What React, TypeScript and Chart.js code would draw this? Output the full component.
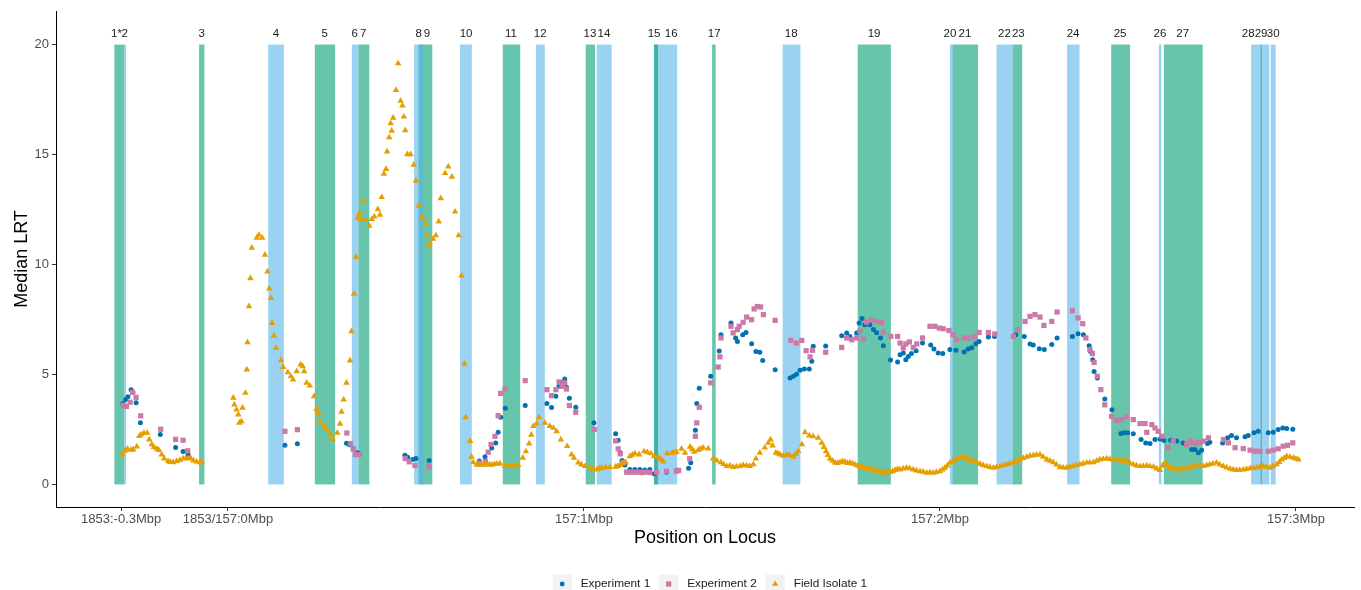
import React, { useEffect, useRef } from 'react';
import { Chart, registerables } from 'chart.js';

Chart.register(...registerables);

const FONT = "'Liberation Sans', Arial, Helvetica, sans-serif";

// x positions in kb relative to 157.0 Mbp
const xTickValues = [-30, 0, 100, 200, 300];
const xTickLabels = ['1853:-0.3Mbp', '1853/157:0Mbp', '157:1Mbp', '157:2Mbp', '157:3Mbp'];
const yTickValues = [0, 5, 10, 15, 20];

// highlighted regions (kb), in drawing order
const regionStart = [-31.9, -29.1, -8.1, 11.3, 24.4, 34.8, 36.7, 53.5, 52.3, 65.2, 77.2, 86.5, 100.5, 103.6, 119.7, 119.7, 136.0, 155.8, 176.9, 202.8, 203.6, 215.9, 220.4, 235.7, 248.1, 261.5, 262.9, 287.4, 290.1, 292.9];
const regionEnd = [-29.1, -28.6, -6.6, 15.7, 30.1, 36.7, 39.7, 57.4, 54.9, 68.5, 82.1, 89.0, 103.1, 107.8, 126.2, 120.8, 137.0, 160.8, 186.2, 203.7, 210.7, 220.4, 223.1, 239.2, 253.4, 262.2, 273.8, 292.5, 290.4, 294.3];
const regionKind = ['g', 'b', 'g', 'b', 'g', 'b', 'g', 'g', 'b', 'b', 'g', 'b', 'g', 'b', 'b', 'g', 'g', 'b', 'g', 'b', 'g', 'b', 'g', 'b', 'g', 'b', 'g', 'b', 'g', 'b'];
const regionBottom = 0;
const regionTop = 20;

const regionLabels = ['1*', '2', '3', '4', '5', '6', '7', '8', '9', '10', '11', '12', '13', '14', '15', '16', '17', '18', '19', '20', '21', '22', '23', '24', '25', '26', '27', '28', '29', '30'];
const regionLabelX = [-31.3, -29.0, -7.4, 13.5, 27.2, 35.6, 38.0, 53.6, 55.9, 66.9, 79.5, 87.7, 101.7, 105.6, 119.7, 124.5, 136.6, 158.2, 181.5, 202.8, 207.0, 218.1, 222.0, 237.4, 250.6, 261.8, 268.2, 286.6, 290.2, 293.6];
const regionLabelY = 20.5;

const seriesNames = ['Experiment 1', 'Experiment 2', 'Field Isolate 1'];

const experiment1: [number, number][] = [
  [-29.5, 3.68], [-28.7, 3.86], [-28.1, 3.99], [-27.2, 4.31], [-26.7, 4.18], [-25.8, 3.72], [-24.6, 2.80], [-19.0, 2.27], [-14.7, 1.68], [-12.6, 1.50], [-11.2, 1.36],
  [16.0, 1.78], [19.5, 1.85],
  [33.3, 1.87], [34.1, 1.80], [35.2, 1.62], [36.4, 1.44], [36.9, 1.38],
  [49.7, 1.33], [50.5, 1.24], [51.9, 1.13], [52.8, 1.18], [56.5, 1.09],
  [70.6, 1.07], [72.2, 1.26], [74.1, 1.66], [75.2, 1.89], [75.9, 2.37], [76.6, 3.05], [77.9, 3.46], [83.5, 3.59], [89.6, 3.68], [90.9, 3.50], [92.1, 4.01], [93.0, 4.46], [93.8, 4.62], [94.6, 4.80], [95.1, 4.42], [95.9, 3.92], [97.7, 3.51], [102.8, 2.80], [108.9, 2.30], [109.6, 2.01], [110.2, 1.44], [110.7, 1.09], [111.5, 0.89], [112.9, 0.68], [114.3, 0.68], [115.7, 0.68], [117.1, 0.66], [118.5, 0.68], [119.7, 0.49], [123.2, 0.56], [126.2, 0.65], [129.4, 0.74], [130.0, 0.99], [131.3, 2.46], [131.7, 3.68], [132.4, 4.37], [135.6, 4.92], [138.0, 6.07], [138.5, 6.81], [141.3, 7.34], [142.6, 6.66], [143.1, 6.50], [144.6, 6.81], [145.5, 6.91], [147.1, 6.40], [148.3, 6.05], [149.4, 6.01], [150.2, 5.64], [153.7, 5.22], [157.9, 4.84], [158.8, 4.92], [159.7, 5.01], [160.7, 5.19], [161.9, 5.25], [163.3, 5.25], [164.0, 5.60], [164.4, 6.28], [167.9, 6.30], [172.4, 6.76], [173.8, 6.89], [174.7, 6.73], [176.6, 6.89], [177.3, 7.34], [178.1, 7.55], [178.9, 7.26], [180.3, 7.26], [181.3, 7.04], [182.2, 6.90], [183.3, 6.66], [184.1, 6.31], [186.1, 5.66], [188.1, 5.57], [188.8, 5.90], [189.7, 5.98], [190.4, 5.67], [191.1, 5.82], [192.0, 5.95], [193.3, 6.08], [195.1, 6.43], [197.4, 6.34], [198.3, 6.16], [199.5, 5.98], [200.8, 5.95], [202.8, 6.13], [204.5, 6.10], [206.8, 6.02], [207.9, 6.16], [208.9, 6.21], [210.1, 6.40], [211.0, 6.50], [213.6, 6.70], [215.3, 6.73], [221.3, 6.81], [223.7, 6.73], [225.3, 6.39], [226.2, 6.34], [227.9, 6.17], [229.3, 6.13], [231.4, 6.36], [232.9, 6.66], [237.2, 6.73], [238.8, 6.85], [240.3, 6.81], [241.9, 6.31], [242.3, 6.05], [242.9, 5.67], [243.3, 5.14], [244.2, 4.84], [246.3, 3.89], [248.3, 3.40], [250.8, 2.32], [251.7, 2.35], [252.7, 2.35], [254.3, 2.30], [256.5, 2.04], [257.8, 1.89], [259.0, 1.86], [260.4, 2.04], [261.8, 2.07], [262.9, 2.00], [264.8, 2.01], [266.5, 1.97], [268.3, 1.89], [270.7, 1.59], [271.6, 1.59], [272.6, 1.44], [273.5, 1.56], [275.1, 1.86], [275.8, 1.92], [279.4, 1.89], [280.8, 2.12], [281.9, 2.22], [283.3, 2.12], [285.7, 2.17], [286.6, 2.22], [288.2, 2.35], [289.4, 2.42], [292.2, 2.35], [293.6, 2.37], [295.0, 2.50], [296.3, 2.57], [297.4, 2.54], [299.1, 2.51],
];

const experiment2: [number, number][] = [
  [-29.4, 3.60], [-28.5, 3.55], [-27.5, 3.74], [-26.8, 4.19], [-25.8, 3.96], [-24.5, 3.12], [-18.9, 2.51], [-14.7, 2.05], [-12.6, 2.01], [-11.3, 1.53],
  [16.0, 2.42], [19.5, 2.49],
  [33.4, 2.34], [34.4, 1.86], [35.2, 1.60], [35.8, 1.36], [36.8, 1.35],
  [49.8, 1.18], [50.9, 1.03], [52.5, 0.86], [56.5, 0.80],
  [70.6, 0.98], [72.3, 1.05], [73.1, 1.47], [73.9, 1.82], [75.0, 2.19], [75.9, 3.13], [76.6, 4.14], [77.8, 4.34], [83.5, 4.72], [89.6, 4.31], [90.9, 4.04], [92.1, 4.31], [93.0, 4.66], [93.8, 4.46], [94.6, 4.62], [95.1, 4.34], [95.9, 3.59], [97.7, 3.28], [102.9, 2.50], [108.9, 1.98], [109.6, 1.62], [110.2, 1.39], [111.0, 1.01], [112.0, 0.56], [112.9, 0.56], [114.0, 0.56], [115.2, 0.56], [116.3, 0.54], [117.4, 0.56], [118.5, 0.54], [120.4, 0.56], [123.2, 0.60], [126.0, 0.60], [126.6, 0.64], [129.7, 1.17], [131.3, 2.19], [131.7, 2.80], [132.4, 3.51], [135.6, 4.62], [137.7, 5.34], [138.2, 5.80], [138.5, 6.66], [141.3, 7.19], [141.9, 6.89], [143.1, 7.04], [143.6, 7.19], [144.7, 7.37], [145.7, 7.61], [147.1, 7.49], [147.8, 7.98], [148.7, 8.09], [149.6, 8.07], [150.4, 7.72], [153.7, 7.46], [158.1, 6.55], [159.7, 6.43], [161.2, 6.55], [162.4, 6.08], [163.5, 5.80], [164.2, 6.10], [167.9, 6.01], [172.4, 6.23], [173.8, 6.66], [175.2, 6.58], [176.6, 6.66], [177.5, 6.96], [178.5, 6.61], [179.4, 7.38], [180.8, 7.50], [182.2, 7.41], [183.6, 7.37], [184.1, 6.93], [186.2, 6.73], [188.1, 6.73], [188.8, 6.43], [189.7, 6.21], [190.4, 6.39], [191.4, 6.48], [192.5, 6.23], [193.5, 6.39], [195.1, 6.66], [197.2, 7.19], [198.6, 7.19], [199.8, 7.11], [200.9, 7.08], [202.5, 7.00], [203.7, 6.81], [204.7, 6.58], [206.8, 6.66], [207.8, 6.66], [209.6, 6.70], [211.0, 6.91], [213.6, 6.91], [215.4, 6.84], [220.6, 6.73], [221.8, 7.04], [223.9, 7.41], [225.3, 7.64], [226.7, 7.72], [228.1, 7.61], [229.2, 7.23], [231.4, 7.41], [232.9, 7.84], [237.2, 7.90], [238.8, 7.57], [240.1, 7.31], [241.0, 6.66], [242.1, 6.13], [242.8, 5.95], [243.3, 5.55], [244.2, 4.92], [245.2, 4.31], [246.3, 3.62], [248.2, 3.10], [249.6, 2.91], [251.0, 2.95], [252.4, 3.07], [254.3, 2.95], [256.2, 2.77], [257.6, 2.77], [258.1, 2.37], [259.5, 2.72], [260.4, 2.57], [261.3, 2.42], [262.3, 2.19], [264.1, 1.67], [265.5, 1.97], [269.3, 1.82], [270.4, 1.97], [271.2, 1.89], [272.1, 1.86], [273.0, 1.92], [274.0, 1.97], [275.4, 2.12], [279.6, 2.04], [281.0, 1.89], [282.9, 1.67], [285.2, 1.63], [287.1, 1.56], [288.5, 1.51], [289.9, 1.51], [292.2, 1.51], [293.6, 1.56], [295.0, 1.62], [296.4, 1.74], [297.6, 1.78], [299.1, 1.89],
];

const fieldIsolate1: [number, number][] = [
  [-29.6, 1.36], [-28.9, 1.53], [-28.2, 1.62], [-27.2, 1.57], [-26.6, 1.59], [-25.6, 1.72], [-24.9, 2.20], [-24.4, 2.27], [-23.6, 2.34], [-22.7, 2.35], [-22.1, 2.04], [-21.4, 1.82], [-20.8, 1.70], [-20.0, 1.62], [-19.4, 1.56], [-18.6, 1.36], [-17.9, 1.18], [-16.8, 1.06], [-16.2, 1.02], [-15.4, 1.01], [-14.4, 1.06], [-13.5, 1.11], [-12.6, 1.18], [-11.8, 1.20], [-11.2, 1.18], [-10.5, 1.20], [-9.7, 1.09], [-8.8, 1.04], [-7.9, 1.01], [-7.3, 1.01],
  [1.5, 3.94], [1.8, 3.63], [2.4, 3.40], [2.9, 3.18], [3.2, 2.80], [3.8, 2.87], [4.1, 3.48], [4.9, 4.16], [5.3, 5.22], [5.5, 6.46], [5.9, 8.10], [6.3, 9.37], [6.7, 10.76], [8.1, 11.21], [8.7, 11.35], [9.6, 11.21], [10.4, 10.44], [11.1, 9.68], [11.6, 8.90], [12.1, 8.47], [12.4, 7.34], [12.9, 6.76], [13.5, 6.21], [14.9, 5.64], [15.5, 5.34], [16.8, 5.10], [17.7, 4.92], [18.3, 4.77], [19.3, 5.14], [20.4, 5.45], [21.0, 5.37], [21.4, 5.14], [22.1, 4.62], [23.0, 4.49], [24.2, 4.01], [24.9, 3.44], [25.4, 3.22], [25.8, 2.87], [26.8, 2.65], [27.7, 2.50], [28.8, 2.27], [29.4, 2.07], [30.7, 2.35], [31.5, 2.76], [31.9, 3.30], [32.5, 3.86], [33.3, 4.62], [34.3, 5.63], [34.7, 6.96], [35.4, 8.66], [36.0, 10.34], [36.4, 12.11], [36.9, 12.33], [37.3, 12.03], [38.0, 12.91], [38.5, 12.03], [39.7, 11.76], [40.4, 12.06], [41.1, 12.18], [42.1, 12.51], [42.7, 12.26], [43.2, 13.06], [43.8, 14.12], [44.4, 14.34], [44.7, 15.13], [45.3, 15.78], [45.7, 16.42], [46.0, 16.08], [46.4, 16.67], [47.2, 17.93], [47.8, 19.14], [48.5, 17.44], [49.0, 17.22], [49.4, 16.72], [49.8, 16.10], [50.4, 15.01], [51.3, 15.01], [52.2, 14.53], [52.8, 13.80], [53.7, 12.68], [54.7, 12.13], [55.5, 11.86], [56.0, 11.30], [56.5, 10.89], [57.6, 11.17], [58.4, 11.32], [59.2, 11.95], [59.8, 13.01], [61.0, 14.15], [61.9, 14.45], [62.9, 13.99], [63.8, 12.40], [64.8, 11.32], [65.6, 9.49], [66.4, 5.48], [66.8, 3.05], [68.0, 1.97], [68.4, 1.26],
  [68.9, 1.01], [69.9, 0.89], [70.6, 0.90], [71.3, 0.89], [72.0, 0.90], [72.7, 0.91], [73.4, 0.90], [74.1, 0.89], [74.8, 0.92], [75.5, 0.94], [76.4, 0.95], [77.8, 0.86], [78.5, 0.84], [79.2, 0.83], [79.9, 0.83], [80.6, 0.83], [81.5, 0.88], [82.8, 1.21], [83.7, 1.50], [84.6, 1.86], [85.2, 2.26], [85.8, 2.65], [86.7, 2.77], [87.4, 3.05], [89.0, 2.80], [90.4, 2.65], [91.4, 2.57], [92.3, 2.42], [93.5, 2.04], [95.3, 1.74], [96.5, 1.36], [97.2, 1.21], [98.4, 0.99],
  [99.3, 0.90], [100.3, 0.83], [101.7, 0.76], [102.6, 0.72], [103.6, 0.68], [104.3, 0.72], [105.0, 0.76], [106.1, 0.78], [107.3, 0.79], [108.9, 0.80], [109.5, 0.84], [110.1, 0.88], [110.9, 0.95], [111.7, 1.01], [112.9, 1.28], [113.6, 1.35], [114.3, 1.41], [115.5, 1.36], [116.9, 1.50], [117.8, 1.46], [118.8, 1.41], [119.7, 1.28], [120.9, 1.24], [121.6, 1.13], [122.3, 1.04], [123.4, 1.41], [124.8, 1.44], [125.4, 1.45], [126.0, 1.47], [127.4, 1.62], [128.4, 1.44], [129.8, 1.71], [130.4, 1.60], [131.0, 1.48], [132.1, 1.56], [132.8, 1.62], [133.5, 1.67], [134.9, 1.63], [136.3, 1.18], [137.3, 1.09], [138.4, 1.01], [139.2, 0.92],
  [140.1, 0.83], [141.0, 0.86], [141.9, 0.79], [142.8, 0.81], [143.8, 0.83], [144.7, 0.88], [145.7, 0.86], [146.6, 0.84], [147.6, 0.91], [148.3, 1.17], [149.4, 1.44], [150.8, 1.67], [151.8, 1.89], [152.4, 2.04], [153.0, 1.77], [153.9, 1.44], [154.5, 1.40], [155.1, 1.36], [156.0, 1.30], [156.9, 1.36], [157.8, 1.33], [158.8, 1.26], [159.5, 1.38], [160.2, 1.51], [161.2, 1.82], [162.1, 2.37], [163.3, 2.22], [164.4, 2.19], [165.8, 2.12], [166.8, 1.89], [167.4, 1.70], [168.0, 1.51], [168.5, 1.33], [169.1, 1.17], [169.8, 1.08],
  [170.5, 0.99], [171.2, 0.97], [171.9, 1.01], [172.6, 1.05], [173.3, 1.03], [174.0, 0.97], [174.7, 0.99], [175.4, 0.95], [176.1, 0.91], [176.8, 0.86], [177.5, 0.80], [178.2, 0.78], [178.9, 0.76], [179.6, 0.71], [180.3, 0.68], [181.0, 0.67], [181.7, 0.64], [182.4, 0.62], [183.1, 0.58], [183.8, 0.55], [184.6, 0.53], [185.3, 0.58], [186.0, 0.56], [186.7, 0.60], [187.4, 0.65], [188.1, 0.70], [188.8, 0.68], [189.7, 0.72], [190.6, 0.76], [191.5, 0.73], [192.5, 0.68], [193.4, 0.63], [194.4, 0.60], [195.3, 0.57], [196.3, 0.53], [197.2, 0.55], [198.1, 0.53], [199.0, 0.56],
  [200.0, 0.60], [200.7, 0.67], [201.4, 0.76], [202.1, 0.86], [202.8, 0.99], [203.6, 1.05], [204.5, 1.13], [205.5, 1.20], [206.5, 1.28], [207.2, 1.22], [207.9, 1.13], [208.6, 1.09], [209.4, 1.06], [210.3, 1.00], [211.2, 0.94], [212.1, 0.88], [213.1, 0.83], [214.0, 0.79], [215.0, 0.76], [215.9, 0.79], [216.9, 0.83], [217.8, 0.87], [218.7, 0.91], [219.6, 0.95], [220.6, 0.99], [221.5, 1.05], [222.5, 1.13], [223.4, 1.20], [224.4, 1.26], [225.3, 1.30], [226.2, 1.32], [227.1, 1.35], [228.1, 1.36], [229.0, 1.25],
  [230.0, 1.13], [230.9, 1.07], [231.8, 1.01], [232.7, 0.90], [233.7, 0.79], [234.6, 0.77], [235.6, 0.76], [236.5, 0.80], [237.4, 0.83], [238.3, 0.87], [239.3, 0.91], [240.2, 0.95], [241.2, 0.99], [242.1, 1.00], [243.1, 1.01], [244.0, 1.07], [244.9, 1.13], [245.8, 1.16], [246.8, 1.18], [247.7, 1.15], [248.7, 1.13], [249.6, 1.11], [250.6, 1.09], [251.5, 1.08], [252.4, 1.06], [253.3, 0.98], [254.3, 0.91], [255.2, 0.86], [256.2, 0.83], [257.1, 0.84], [258.1, 0.86], [259.0, 0.83],
  [260.0, 0.80], [260.9, 0.72], [261.8, 0.65], [262.5, 0.85], [263.2, 0.99], [263.9, 0.88], [264.6, 0.76], [265.5, 0.72], [266.5, 0.68], [267.4, 0.69], [268.3, 0.71], [269.2, 0.75], [270.2, 0.80], [271.1, 0.83], [272.1, 0.86], [273.0, 0.85], [274.0, 0.83], [274.9, 0.87], [275.8, 0.91], [276.7, 0.95], [277.7, 0.99], [278.6, 0.90], [279.6, 0.83], [280.5, 0.77], [281.5, 0.71], [282.4, 0.68], [283.3, 0.65], [284.2, 0.66], [285.2, 0.68], [286.1, 0.70], [287.1, 0.73], [288.0, 0.75], [289.0, 0.76], [289.9, 0.80],
  [290.8, 0.83], [291.7, 0.80], [292.7, 0.76], [293.6, 0.84], [294.6, 0.91], [295.3, 1.02], [296.0, 1.13], [296.7, 1.20], [297.4, 1.28], [298.3, 1.25], [299.3, 1.21], [300.0, 1.17], [300.7, 1.13],
];

const COLORS = {
  exp1: '#0072B2',
  exp2: '#CC79A7',
  field: '#E69F00',
  green: 'rgba(0,158,115,0.6)',
  blue: 'rgba(86,180,233,0.6)',
  keyBg: '#F2F2F2',
};

const overlayPlugin = {
  id: 'overlay',
  beforeDatasetsDraw(chart: any) {
    const { ctx, scales } = chart;
    const xs = scales.x;
    const ys = scales.y;
    const yb = ys.getPixelForValue(regionBottom);
    const yt = ys.getPixelForValue(regionTop);
    ctx.save();
    for (let i = 0; i < regionStart.length; i++) {
      const a = xs.getPixelForValue(regionStart[i]);
      const b = xs.getPixelForValue(regionEnd[i]);
      ctx.fillStyle = regionKind[i] === 'g' ? COLORS.green : COLORS.blue;
      ctx.fillRect(a, yt, b - a, yb - yt);
    }
    ctx.restore();
  },
  afterDatasetsDraw(chart: any) {
    const { ctx, scales } = chart;
    ctx.save();
    ctx.font = `11.5px ${FONT}`;
    ctx.fillStyle = '#1A1A1A';
    ctx.textAlign = 'center';
    ctx.textBaseline = 'middle';
    const y = scales.y.getPixelForValue(regionLabelY);
    for (let i = 0; i < regionLabels.length; i++) {
      ctx.fillText(regionLabels[i], scales.x.getPixelForValue(regionLabelX[i]), y);
    }
    ctx.restore();
  },
  afterDraw(chart: any) {
    const { ctx } = chart;
    ctx.save();
    ctx.font = `11.8px ${FONT}`;
    ctx.textBaseline = 'middle';
    ctx.textAlign = 'left';
    const keySize = 19;
    const cy = 584;
    let x = 552.7;
    const styles = ['circle', 'rect', 'triangle'];
    const cols = [COLORS.exp1, COLORS.exp2, COLORS.field];
    for (let i = 0; i < seriesNames.length; i++) {
      ctx.fillStyle = COLORS.keyBg;
      ctx.fillRect(x, cy - keySize / 2, keySize, keySize);
      const kx = x + keySize / 2;
      ctx.fillStyle = cols[i];
      ctx.beginPath();
      if (styles[i] === 'circle') {
        ctx.arc(kx, cy, 2.4, 0, Math.PI * 2);
      } else if (styles[i] === 'rect') {
        ctx.rect(kx - 2.6, cy - 2.6, 5.2, 5.2);
      } else {
        const r = 3.6;
        ctx.moveTo(kx, cy - r);
        ctx.lineTo(kx + r * 0.866, cy + r / 2);
        ctx.lineTo(kx - r * 0.866, cy + r / 2);
        ctx.closePath();
      }
      ctx.fill();
      ctx.fillStyle = '#1A1A1A';
      const tx = x + keySize + 9;
      ctx.fillText(seriesNames[i], tx, cy);
      x = tx + ctx.measureText(seriesNames[i]).width + 9;
    }
    ctx.restore();
  },
};

export default function App() {
  const canvasRef = useRef<HTMLCanvasElement | null>(null);

  useEffect(() => {
    const canvas = canvasRef.current;
    if (!canvas) return;
    const toPts = (arr: [number, number][]) => arr.map(([x, y]) => ({ x, y }));
    const chart = new Chart(canvas, {
      type: 'scatter',
      data: {
        datasets: [
          {
            label: seriesNames[2],
            data: toPts(fieldIsolate1),
            pointStyle: 'triangle',
            pointRadius: 3.8,
            backgroundColor: COLORS.field,
            borderColor: COLORS.field,
            borderWidth: 0,
            order: 0,
          },
          {
            label: seriesNames[1],
            data: toPts(experiment2),
            pointStyle: 'rect',
            pointRadius: 3.7,
            backgroundColor: COLORS.exp2,
            borderColor: COLORS.exp2,
            borderWidth: 0,
            order: 1,
          },
          {
            label: seriesNames[0],
            data: toPts(experiment1),
            pointStyle: 'circle',
            pointRadius: 2.5,
            backgroundColor: COLORS.exp1,
            borderColor: COLORS.exp1,
            borderWidth: 0,
            order: 2,
          },
        ],
      },
      options: {
        animation: false,
        responsive: false,
        devicePixelRatio: 1,
        events: [],
        layout: { padding: { left: 0, right: 7, top: 11, bottom: 0 } },
        plugins: {
          legend: { display: false },
          tooltip: { enabled: false },
        },
        scales: {
          x: {
            type: 'linear',
            position: 'bottom',
            min: -48.3,
            max: 316.3,
            bounds: 'data',
            afterBuildTicks: (s: any) => {
              s.ticks = xTickValues.map((v) => ({ value: v }));
            },
            afterFit: (s: any) => {
              s.height = 83;
            },
            ticks: {
              autoSkip: false,
              maxRotation: 0,
              minRotation: 0,
              padding: 1,
              color: '#4D4D4D',
              font: { family: FONT, size: 13 },
              callback: (v: any) => {
                const i = xTickValues.indexOf(Number(v));
                return i >= 0 ? xTickLabels[i] : '';
              },
            },
            grid: {
              display: true,
              drawOnChartArea: false,
              drawTicks: true,
              tickLength: 4,
              tickColor: '#333333',
              tickWidth: 1,
            },
            border: { display: true, color: '#000000', width: 1 },
            title: {
              display: true,
              text: 'Position on Locus',
              color: '#000000',
              font: { family: FONT, size: 18 },
              padding: { top: 0, bottom: 41 },
            },
          },
          y: {
            type: 'linear',
            position: 'left',
            min: -1.025,
            max: 21.525,
            bounds: 'data',
            afterBuildTicks: (s: any) => {
              s.ticks = yTickValues.map((v) => ({ value: v }));
            },
            afterFit: (s: any) => {
              s.width = 56;
            },
            ticks: {
              autoSkip: false,
              padding: 3,
              color: '#4D4D4D',
              font: { family: FONT, size: 13 },
              callback: (v: any) => String(v),
            },
            grid: {
              display: true,
              drawOnChartArea: false,
              drawTicks: true,
              tickLength: 4,
              tickColor: '#333333',
              tickWidth: 1,
            },
            border: { display: true, color: '#000000', width: 1 },
            title: {
              display: true,
              text: 'Median LRT',
              color: '#000000',
              font: { family: FONT, size: 18 },
              padding: { top: 11, bottom: 0 },
            },
          },
        },
      } as any,
      plugins: [overlayPlugin],
    });
    return () => chart.destroy();
  }, []);

  return (
    <div style={{ position: 'absolute', left: 0, top: 0, width: 1361, height: 590, background: '#ffffff' }}>
      <canvas ref={canvasRef} width={1361} height={590} style={{ display: 'block' }} />
    </div>
  );
}
